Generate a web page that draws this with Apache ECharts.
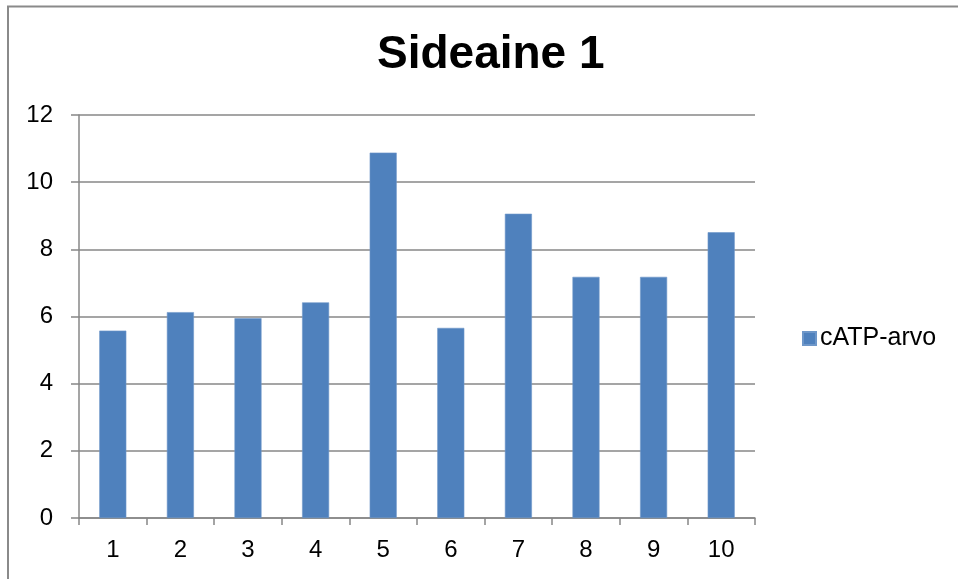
<!DOCTYPE html>
<html>
<head>
<meta charset="utf-8">
<title>Sideaine 1</title>
<script src="https://cdn.jsdelivr.net/npm/echarts@6/dist/echarts.min.js"></script>
<style>
  html, body { margin: 0; padding: 0; background: #ffffff; }
  #chart { width: 958px; height: 579px; }
</style>
</head>
<body>
<div id="chart"></div>
<script>
// Sample numbers 1–10 on the category axis
const categories = ['1', '2', '3', '4', '5', '6', '7', '8', '9', '10'];
// cATP values per sample
const catpValues = [5.58, 6.13, 5.95, 6.42, 10.88, 5.66, 9.06, 7.18, 7.18, 8.51];
const seriesName = 'cATP-arvo';
const chartTitle = 'Sideaine 1';
// Value axis range
const yMin = 0;
const yMax = 12;
const yStep = 2;

const FONT = '"Liberation Sans", Arial, sans-serif';
const GRAY = '#878787';

const chart = echarts.init(document.getElementById('chart'), null, { renderer: 'canvas' });

chart.setOption({
  backgroundColor: '#ffffff',
  animation: false,
  title: {
    text: chartTitle,
    left: 372,
    top: 27,
    textStyle: { fontFamily: FONT, fontSize: 46, fontWeight: 'bold', color: '#000000' }
  },
  legend: {
    data: [seriesName],
    left: 797,
    top: 321,
    orient: 'vertical',
    icon: 'rect',
    itemWidth: 13,
    itemHeight: 13,
    itemGap: 6,
    textStyle: { fontFamily: FONT, fontSize: 25, color: '#000000', padding: [0, 0, 0, -1] }
  },
  graphic: [
    {
      type: 'rect',
      silent: true,
      shape: { x: 8, y: 6.5, width: 1000, height: 1000 },
      style: { fill: 'none', stroke: '#8a8a8a', lineWidth: 2 }
    }
  ],
  grid: { left: 79, right: 203, top: 115, bottom: 61 },
  xAxis: {
    type: 'category',
    data: categories,
    boundaryGap: true,
    axisLine: { show: true, lineStyle: { color: GRAY, width: 1.5 } },
    axisTick: { show: true, length: 7, lineStyle: { color: GRAY, width: 1.5 } },
    axisLabel: { margin: 20, fontFamily: FONT, fontSize: 24, color: '#000000' },
    splitLine: { show: false }
  },
  yAxis: {
    type: 'value',
    min: yMin,
    max: yMax,
    interval: yStep,
    axisLine: { show: true, lineStyle: { color: GRAY, width: 1.5 } },
    axisTick: { show: true, length: 8, lineStyle: { color: GRAY, width: 1.5 } },
    axisLabel: { margin: 26, fontFamily: FONT, fontSize: 24, color: '#000000' },
    splitLine: { show: true, lineStyle: { color: GRAY, width: 1.5 } }
  },
  series: [
    {
      name: seriesName,
      type: 'bar',
      data: catpValues,
      barCategoryGap: '60%',
      itemStyle: { color: '#4f81bd', borderColor: '#6e97c9', borderWidth: 0.6 }
    }
  ]
});
</script>
</body>
</html>
